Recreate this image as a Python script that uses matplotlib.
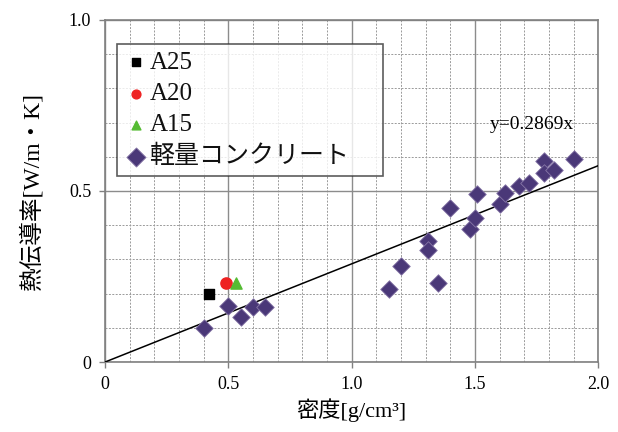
import numpy as np
import matplotlib
matplotlib.use("Agg")
import matplotlib.pyplot as plt
from matplotlib.ticker import MultipleLocator

plt.rcParams['font.family'] = ['Liberation Serif', 'Noto Sans CJK JP', 'DejaVu Sans']

# data
a25_x, a25_y = [0.42], [0.20]
a20_x, a20_y = [0.49], [0.23]
a15_x, a15_y = [0.53], [0.23]

lw_x = [0.40, 0.50, 0.55, 0.60, 0.65, 1.15, 1.20, 1.31, 1.31, 1.35,
        1.40, 1.48, 1.50, 1.51, 1.60, 1.62, 1.68, 1.72, 1.78, 1.78,
        1.82, 1.90]
lw_y = [0.10, 0.164, 0.133, 0.162, 0.162, 0.212, 0.281, 0.354, 0.327, 0.232,
        0.449, 0.390, 0.422, 0.492, 0.461, 0.495, 0.513, 0.522, 0.588, 0.552,
        0.561, 0.593]

slope = 0.2869
fit_x = [0.0, 2.0]

fig = plt.figure(figsize=(6.18, 4.32), dpi=100)
ax = fig.add_axes([0.170, 0.162, 0.798, 0.792])

ax.set_xlim(0, 2.0)
ax.set_ylim(0, 1.0)
ax.xaxis.set_major_locator(MultipleLocator(0.5))
ax.xaxis.set_minor_locator(MultipleLocator(0.1))
ax.yaxis.set_major_locator(MultipleLocator(0.5))
ax.yaxis.set_minor_locator(MultipleLocator(0.1))
ax.grid(which='major', color='#8c8c8c', lw=1.0, ls='-')
ax.grid(which='minor', color='#9a9a9a', lw=0.7, ls=(0, (2, 1.5)))
ax.set_axisbelow(True)
for s in ax.spines.values():
    s.set_color('#808080')
    s.set_linewidth(1.2)
ax.tick_params(which='major', length=4, width=1, color='#808080', labelsize=13, pad=6)
ax.tick_params(which='minor', length=0)
ax.set_xticks([0, 0.5, 1.0, 1.5, 2.0])
ax.set_xticklabels(['0', '0.5', '1.0', '1.5', '2.0'])
ax.set_yticks([0, 0.5, 1.0])
ax.set_yticklabels(['0', '0.5', '1.0'])

fx = np.array(fit_x)
ax.plot(fx, slope * fx, color='black', lw=1.1, zorder=3)

ax.scatter(a25_x, a25_y, marker='s', s=55, color='black', label='A25', zorder=4)
ax.scatter(a20_x, a20_y, marker='o', s=65, color='#ee2222', label='A20', zorder=4)
ax.scatter(a15_x, a15_y, marker='^', s=65, color='#55bb33', label='A15', zorder=4)
ax.scatter(lw_x, lw_y, marker='D', s=80, color='#4a3878', edgecolors='#8878a8',
           linewidths=0.6, label='軽量コンクリート', zorder=5)

ax.text(1.73, 0.693, 'y=0.2869x', fontsize=14, ha='center', va='center')

leg = ax.legend(loc='upper left', bbox_to_anchor=(0.024, 0.5, 0.54, 0.43),
                mode='expand', fontsize=18,
                frameon=True, fancybox=False, borderpad=0.3, labelspacing=0.35,
                handletextpad=0.1, handlelength=0.9, borderaxespad=0)
leg.get_frame().set_edgecolor('#333333')
leg.get_frame().set_linewidth(1.2)
for h in leg.legend_handles:
    h.set_sizes([40])
leg.legend_handles[3].set_sizes([95])
for t in leg.get_texts():
    t.set_color('#111111')

ax.set_xlabel('密度[g/cm³]', fontsize=16, labelpad=4)
ax.set_ylabel('熱伝導率[W/m・K]', fontsize=17, labelpad=18)

fig.savefig('out.png', dpi=100)
